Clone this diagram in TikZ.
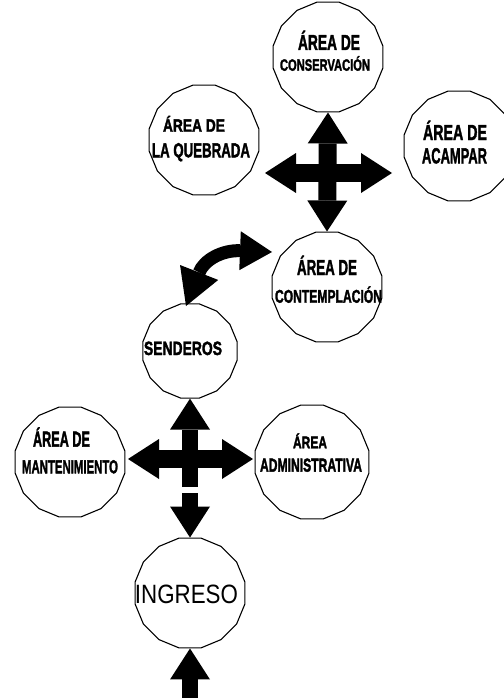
\documentclass[tikz,border=0pt]{standalone}
\usepackage{fontspec}
\usepackage{graphicx}
\usetikzlibrary{arrows.meta,shapes.geometric}
\newfontfamily\rotfont{Liberation Sans}
\newfontfamily\rotnegra{Liberation Sans Bold}[FakeBold=2.2]
\newcommand{\renglon}[3][1]{\resizebox{#2}{#1\height}{#3}}

\begin{document}
\begin{tikzpicture}[
  x=1pt,y=-1pt,
  punta/.tip={Triangle[length=31pt 0,width=40pt 0,line width=0pt]},
  zona/.style={draw,line width=1.1pt,regular polygon,regular polygon sides=16,
    minimum size=112pt,inner sep=0pt},
  rotulo/.style={font=\rotnegra\fontsize{18}{20}\selectfont,
    inner sep=0pt,anchor=base},
  flecha/.style={line width=16pt,-punta},
  dflecha/.style={line width=18pt,punta-punta}
]
  \useasboundingbox (0,0) rectangle (503,698);

  \node[zona] (cons) at (328,57) {};
  \node[zona] (queb) at (204,140) {};
  \node[zona] (acam) at (459,146) {};
  \node[zona] (cont) at (327,287) {};
  \node[zona,minimum size=96pt] (send) at (190,351) {};
  \node[zona] (mant) at (70,462) {};
  \node[zona,minimum size=116pt] (admi) at (312,462) {};
  \node[zona] (ingr) at (190,593) {};

  \node[rotulo] (cons-1) at (329,50) {\renglon[1.21]{62pt}{ÁREA DE}};
  \node[rotulo] (cons-2) at (325,70.7) {\renglon[0.91]{90pt}{CONSERVACIÓN}};
  \node[rotulo] (queb-1) at (194,131.7) {\renglon[0.99]{62pt}{ÁREA DE}};
  \node[rotulo] (queb-2) at (201,157.3) {\renglon[1.13]{98pt}{LA QUEBRADA}};
  \node[rotulo] (acam-1) at (455,140) {\renglon[1.21]{64pt}{ÁREA DE}};
  \node[rotulo] (acam-2) at (454.5,163.3) {\renglon[1.21]{65pt}{ACAMPAR}};
  \node[rotulo] (cont-1) at (327,275) {\renglon[1.21]{60pt}{ÁREA DE}};
  \node[rotulo] (cont-2) at (328.5,302.7) {\renglon[1.02]{107pt}{CONTEMPLACIÓN}};
  \node[rotulo] (send-1) at (183,355) {\renglon[1.07]{78pt}{SENDEROS}};
  \node[rotulo] (mant-1) at (61.5,446.7) {\renglon[1.21]{57pt}{ÁREA DE}};
  \node[rotulo] (mant-2) at (70,473.3) {\renglon[1.05]{96pt}{MANTENIMIENTO}};
  \node[rotulo] (admi-1) at (310,448.3) {\renglon[0.94]{34pt}{ÁREA}};
  \node[rotulo] (admi-2) at (311,471.7) {\renglon[1.05]{102pt}{ADMINISTRATIVA}};
  \node[rotulo,font=\rotfont\fontsize{25}{28}\selectfont] (ingr-1)
    at (186.5,603.3) {\renglon[1.06]{103pt}{INGRESO}};

  \coordinate (c1-izq) at (265,173);
  \coordinate (c1-der) at (392,173);
  \coordinate (c2-arr) at (190,487);
  \coordinate (c2-aba) at (190,493);
  \coordinate (c2-izq) at (128,459);
  \coordinate (c2-der) at (253,459);
  \coordinate (curva-a) at (186,306);
  \coordinate (curva-b) at (272,252);
  \coordinate (entrada) at (190,698);

  \draw[dflecha] (cons.south) -- (cont.north);
  \draw[dflecha] (c1-izq) -- (c1-der);
  \draw[line width=13pt,
    {Triangle[length=36pt 0,width=41pt 0,line width=0pt]}-{Triangle[length=32pt 0,width=39pt 0,line width=0pt]}]
    (curva-a) .. controls (204,260) and (222,250) .. (curva-b);
  \draw[flecha] (c2-arr) -- (send.south);
  \draw[dflecha] (c2-izq) -- (c2-der);
  \draw[flecha] (c2-aba) -- (ingr.north);
  \draw[flecha] (entrada) -- (ingr.south);
\end{tikzpicture}
\end{document}
